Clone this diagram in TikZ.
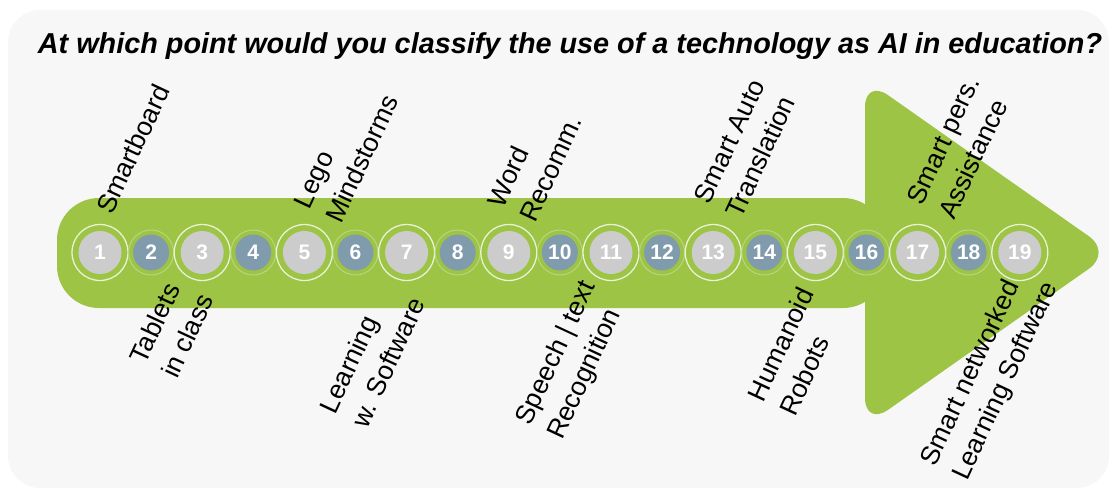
\documentclass[tikz,border=0pt]{standalone}
\usepackage{fontspec}
\setmainfont{Liberation Sans}
\usepackage{xcolor}
\usetikzlibrary{positioning}
\definecolor{bgcol}{RGB}{247,247,247}
\definecolor{arrowgreen}{RGB}{157,196,68}
\definecolor{dotgray}{RGB}{204,204,204}
\definecolor{dotblue}{RGB}{128,155,172}
\definecolor{ringlight}{RGB}{232,242,214}
\definecolor{ringfaint}{RGB}{184,214,128}
\tikzset{
    bigdot/.style={
        circle, minimum size=56pt, inner sep=0pt,
        draw=ringlight, line width=1.3pt,
        text=white, font=\bfseries\fontsize{21}{24}\selectfont,
        path picture={\fill[dotgray] (path picture bounding box.center) circle (21.5pt);}
    },
    smalldot/.style={
        circle, minimum size=45pt, inner sep=0pt,
        draw=ringfaint, line width=1pt,
        text=white, font=\bfseries\fontsize{21}{24}\selectfont,
        path picture={\fill[dotblue] (path picture bounding box.center) circle (18pt);}
    },
    usecase/.style={
        rotate=65, anchor=base west, align=left, inner sep=0pt,
        font=\fontsize{26.5}{35}\selectfont
    },
    title/.style={
        anchor=base, inner sep=0pt,
        font=\bfseries\itshape\fontsize{28.8}{34}\selectfont
    }
}
\begin{document}
\begin{tikzpicture}[x=1pt, y=-1pt, node distance=51.1pt, on grid]
\useasboundingbox (0,0) rectangle (1116,488);

% Background and arrow
\fill[bgcol, rounded corners=32pt] (8,10) rectangle (1109,488);
\fill[arrowgreen, rounded corners=42pt] (57,198) rectangle (885,308);
\fill[arrowgreen, rounded corners=28pt] (865,79) -- (1112,252.5) -- (865,426) -- cycle;

\node[title] (question) at (570,53)
    {At which point would you classify the use of a technology as AI in education?};

% Scale points
\node[bigdot]   (p1) at (100,252.5) {1};
\node[smalldot, right=of p1]  (p2)  {2};
\node[bigdot,   right=of p2]  (p3)  {3};
\node[smalldot, right=of p3]  (p4)  {4};
\node[bigdot,   right=of p4]  (p5)  {5};
\node[smalldot, right=of p5]  (p6)  {6};
\node[bigdot,   right=of p6]  (p7)  {7};
\node[smalldot, right=of p7]  (p8)  {8};
\node[bigdot,   right=of p8]  (p9)  {9};
\node[smalldot, right=of p9]  (p10) {10};
\node[bigdot,   right=of p10] (p11) {11};
\node[smalldot, right=of p11] (p12) {12};
\node[bigdot,   right=of p12] (p13) {13};
\node[smalldot, right=of p13] (p14) {14};
\node[bigdot,   right=of p14] (p15) {15};
\node[smalldot, right=of p15] (p16) {16};
\node[bigdot,   right=of p16] (p17) {17};
\node[smalldot, right=of p17] (p18) {18};
\node[bigdot,   right=of p18] (p19) {19};

% Labels above the arrow (placed by the start of their last line)
\node[usecase] (smartboard) at (112,216) {Smartboard};
\node[usecase] (lego)       at (341,225) {Lego\\Mindstorms};
\node[usecase] (word)       at (535,224) {Word\\Recomm.};
\node[usecase] (translate)  at (741,220) {Smart Auto\\Translation};
\node[usecase] (assist)     at (954,221) {Smart pers.\\Assistance};

% Labels below the arrow
\node[usecase] (tablets)    at (177,380) {Tablets\\in class};
\node[usecase] (software)   at (367,430) {Learning\\w. Software};
\node[usecase] (speech)     at (562,441) {Speech | text\\Recognition};
\node[usecase] (robots)     at (795,418) {Humanoid\\Robots};
\node[usecase] (networked)  at (967,482) {Smart networked\\Learning Software};

\end{tikzpicture}
\end{document}
